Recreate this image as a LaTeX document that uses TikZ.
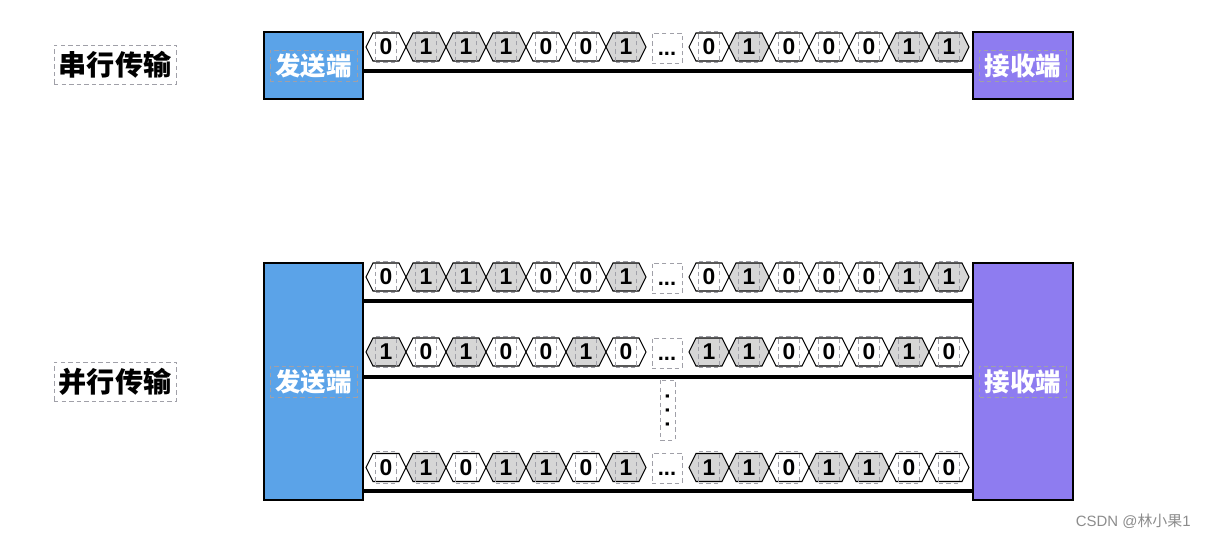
\documentclass[tikz,border=0pt]{standalone}
\usepackage{fontspec}
\setmainfont{Liberation Sans}
\newfontfamily\cjk{Noto Sans CJK SC}
\usetikzlibrary{positioning}

\definecolor{sendblue}{HTML}{5BA3E8}
\definecolor{recvpurple}{HTML}{8E7CF0}
\definecolor{bitgray}{HTML}{D6D6D6}
\definecolor{framegray}{HTML}{A0A0A8}

\tikzset{
  frame/.style={draw=framegray, dash pattern=on 2.5pt off 1.8pt, line width=0.5pt},
  title/.style={frame, inner sep=0pt, minimum width=2.44cm, minimum height=0.78cm,
    font=\cjk\bfseries\fontsize{16}{18}\selectfont},
  endbox/.style={draw=black, line width=0.7pt},
  endtext/.style={frame, inner sep=0pt, minimum width=1.74cm, minimum height=0.62cm,
    text=white, font=\cjk\bfseries\fontsize{14.5}{16}\selectfont},
  bit/.style={frame, inner sep=0pt, minimum width=0.41cm, minimum height=0.63cm,
    font=\bfseries\fontsize{13}{14}\selectfont},
  cell/.style={draw=black, line width=0.6pt},
  bus/.style={line width=1.9pt},
}

% one run of bit cells: name, y, left x, bits
\newcommand{\bitrow}[4]{%
  \foreach \b [count=\i] in {#4}
  {\pgfmathsetmacro{\cx}{#3+40*\i-20}
   \ifnum\b=1 \def\hexfill{bitgray}\else\def\hexfill{white}\fi
   \draw[cell, fill=\hexfill] (\cx-20,#2) -- ++(7,-14) -- ++(26,0)
     -- ++(7,14) -- ++(-7,14) -- ++(-26,0) -- cycle;
   \node[bit] (#1-\i) at (\cx,#2) {\b};
  }}

\begin{document}
\begin{tikzpicture}[x=0.02cm,y=-0.02cm]
  \useasboundingbox (0,0) rectangle (1205,538);

  % serial
  \node[title] (serial) at (115,64.5) {串行传输};
  \node[endbox, fill=sendblue, minimum width=1.98cm, minimum height=1.34cm] (txA) at (313.5,65.5) {};
  \node[endtext] (txAt) at (txA) {发送端};
  \node[endbox, fill=recvpurple, minimum width=2cm, minimum height=1.34cm] (rxA) at (1023,65.5) {};
  \node[endtext] (rxAt) at (rxA) {接收端};
  \draw[bus] (txA.east |- 0,71) -- (rxA.west |- 0,71);
  \bitrow{a}{47}{366}{0,1,1,1,0,0,1}
  \node[frame, inner sep=0pt, minimum size=0.6cm, font=\bfseries\fontsize{12.5}{14}\selectfont] (dotsA) at (667,48) {\vphantom{0}...};
  \bitrow{aa}{47}{689}{0,1,0,0,0,1,1}

  % parallel
  \node[title] (parallel) at (115,381.5) {并行传输};
  \node[endbox, fill=sendblue, minimum width=1.98cm, minimum height=4.74cm] (txB) at (313.5,381.5) {};
  \node[endtext] (txBt) at (txB) {发送端};
  \node[endbox, fill=recvpurple, minimum width=2cm, minimum height=4.74cm] (rxB) at (1023,381.5) {};
  \node[endtext] (rxBt) at (rxB) {接收端};

  \foreach \y/\n in {301/1,377/2,491/3}
    \draw[bus] (txB.east |- 0,\y) -- (rxB.west |- 0,\y);

  \bitrow{b}{277}{366}{0,1,1,1,0,0,1}
  \node[frame, inner sep=0pt, minimum size=0.6cm, font=\bfseries\fontsize{12.5}{14}\selectfont] (dotsB) at (667,278) {\vphantom{0}...};
  \bitrow{bb}{277}{689}{0,1,0,0,0,1,1}

  \bitrow{c}{352}{366}{1,0,1,0,0,1,0}
  \node[frame, inner sep=0pt, minimum size=0.6cm, font=\bfseries\fontsize{12.5}{14}\selectfont] (dotsC) at (667,353) {\vphantom{0}...};
  \bitrow{cc}{352}{689}{1,1,0,0,0,1,0}

  \node[frame, inner sep=0pt, rotate=90, minimum width=1.2cm, minimum height=0.3cm,
    font=\bfseries\fontsize{12.5}{14}\selectfont] (vdots) at (667.5,410) {.\hspace{4.5pt}.\hspace{4.5pt}.\hspace{5pt}};

  \bitrow{d}{467.5}{366}{0,1,0,1,1,0,1}
  \node[frame, inner sep=0pt, minimum size=0.6cm, font=\bfseries\fontsize{12.5}{14}\selectfont] (dotsD) at (667,468) {\vphantom{0}...};
  \bitrow{dd}{467.5}{689}{1,1,0,1,1,0,0}

  \node[text=black!45, inner sep=0pt, anchor=east, font=\fontsize{8.5}{10}\selectfont] (mark) at (1191,521) {CSDN @{\cjk 林小果}1};
\end{tikzpicture}
\end{document}
